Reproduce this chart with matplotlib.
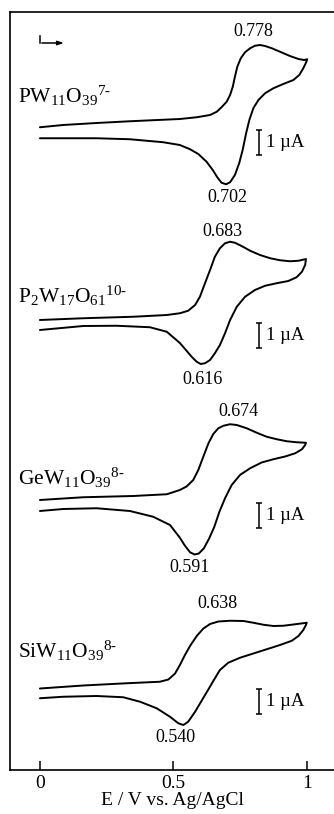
import matplotlib
matplotlib.use('Agg')
import matplotlib.pyplot as plt

plt.rcParams['font.family'] = ['Liberation Serif', 'DejaVu Serif']
plt.rcParams['mathtext.fontset'] = 'custom'
plt.rcParams['mathtext.rm'] = 'Liberation Serif'
plt.rcParams['mathtext.it'] = 'Liberation Serif:italic'

# potential (V vs Ag/AgCl) and current (uA), forward then reverse scan
e_pw = [0.000, 0.087, 0.212, 0.337, 0.524, 0.587, 0.637, 0.662, 0.680, 0.699, 0.712, 0.722, 0.730, 0.739,
        0.752, 0.768, 0.787, 0.805, 0.824, 0.843, 0.868, 0.899, 0.936, 0.968, 0.989, 1.001,
        0.996, 0.986, 0.971, 0.949, 0.911, 0.874, 0.843, 0.818, 0.799, 0.784, 0.772, 0.759, 0.746,
        0.730, 0.712, 0.697, 0.680, 0.664, 0.647, 0.624, 0.593, 0.562, 0.524, 0.462, 0.337, 0.212, 0.000]
i_pw = [0.23, 0.32, 0.40, 0.47, 0.56, 0.63, 0.72, 0.85, 1.03, 1.25, 1.52, 1.85, 2.25, 2.65,
        2.99, 3.23, 3.39, 3.49, 3.52, 3.48, 3.39, 3.25, 3.08, 2.96, 2.92, 2.95,
        2.81, 2.59, 2.32, 2.12, 1.96, 1.79, 1.59, 1.32, 0.99, 0.52, -0.01, -0.68, -1.21,
        -1.68, -1.97, -2.05, -1.99, -1.77, -1.48, -1.15, -0.84, -0.65, -0.48, -0.37, -0.25, -0.21, -0.21]

e_p2w = [0.000, 0.162, 0.349, 0.475, 0.524, 0.555, 0.581, 0.599, 0.618, 0.637, 0.655, 0.674, 0.693, 0.712,
         0.730, 0.755, 0.787, 0.824, 0.862, 0.899, 0.936, 0.968, 0.996,
         0.993, 0.981, 0.961, 0.930, 0.886, 0.843, 0.805, 0.768, 0.737, 0.712, 0.693, 0.674, 0.655,
         0.637, 0.618, 0.602, 0.587, 0.568, 0.549, 0.524, 0.475, 0.412, 0.287, 0.162, 0.000]
i_p2w = [0.20, 0.27, 0.33, 0.40, 0.47, 0.57, 0.80, 1.13, 1.67, 2.20, 2.73, 3.07, 3.27, 3.33,
         3.29, 3.16, 2.97, 2.80, 2.67, 2.59, 2.55, 2.57, 2.64,
         2.40, 2.13, 1.91, 1.76, 1.67, 1.57, 1.40, 1.13, 0.73, 0.20, -0.33, -0.80, -1.13,
         -1.40, -1.53, -1.56, -1.47, -1.27, -1.03, -0.72, -0.27, -0.09, -0.03, -0.04, -0.20]

e_ge = [0.000, 0.162, 0.349, 0.475, 0.524, 0.549, 0.574, 0.593, 0.612, 0.631, 0.649, 0.668, 0.687, 0.712,
        0.737, 0.774, 0.812, 0.849, 0.887, 0.924, 0.961, 0.996,
        0.993, 0.981, 0.956, 0.918, 0.874, 0.830, 0.787, 0.749, 0.718, 0.693, 0.672, 0.653, 0.634,
        0.614, 0.595, 0.579, 0.562, 0.543, 0.524, 0.487, 0.424, 0.337, 0.212, 0.087, 0.000]
i_ge = [0.21, 0.32, 0.37, 0.44, 0.61, 0.75, 1.01, 1.41, 1.95, 2.48, 2.85, 3.08, 3.18, 3.24,
        3.21, 3.08, 2.90, 2.74, 2.64, 2.56, 2.52, 2.50,
        2.41, 2.24, 2.08, 1.95, 1.84, 1.71, 1.48, 1.21, 0.81, 0.28, -0.26, -0.86, -1.32,
        -1.72, -1.93, -1.97, -1.88, -1.62, -1.30, -0.79, -0.46, -0.23, -0.12, -0.15, -0.23]

e_si = [0.000, 0.162, 0.325, 0.449, 0.481, 0.506, 0.524, 0.543, 0.562, 0.587, 0.612, 0.637, 0.668, 0.712,
        0.762, 0.799, 0.837, 0.874, 0.911, 0.949, 0.999,
        0.996, 0.986, 0.968, 0.943, 0.899, 0.849, 0.799, 0.749, 0.705, 0.674, 0.649, 0.630, 0.612,
        0.581, 0.555, 0.537, 0.518, 0.487, 0.437, 0.375, 0.312, 0.212, 0.087, 0.000]
i_si = [0.25, 0.37, 0.46, 0.52, 0.61, 0.85, 1.19, 1.59, 1.95, 2.35, 2.65, 2.83, 2.93, 2.96,
        2.95, 2.88, 2.80, 2.75, 2.76, 2.81, 2.88,
        2.79, 2.59, 2.35, 2.16, 1.99, 1.82, 1.65, 1.48, 1.28, 0.99, 0.55, 0.20, -0.12,
        -0.68, -1.08, -1.21, -1.14, -0.88, -0.54, -0.28, -0.10, -0.05, -0.08, -0.14]

names = [r'$\mathrm{PW_{11}O_{39}}^{7\text{-}}$', r'$\mathrm{P_2W_{17}O_{61}}^{10\text{-}}$',
         r'$\mathrm{GeW_{11}O_{39}}^{8\text{-}}$', r'$\mathrm{SiW_{11}O_{39}}^{8\text{-}}$']
anodic = ['0.778', '0.683', '0.674', '0.638']
cathodic = ['0.702', '0.616', '0.591', '0.540']

curves = [(e_pw, i_pw), (e_p2w, i_p2w), (e_ge, i_ge), (e_si, i_si)]
offsets = [25.48, 17.8, 10.59, 3.01]
name_y = [26.68, 18.68, 11.4, 4.48]
anodic_pos = [(0.798, 29.52), (0.685, 21.56), (0.742, 14.36), (0.663, 6.64)]
cathodic_pos = [(0.700, 22.92), (0.610, 15.6), (0.562, 8.12), (0.506, 1.32)]
bar_y = [25.1, 17.4, 10.2, 2.74]

fig = plt.figure(figsize=(3.34, 8.14), dpi=100)
ax = fig.add_axes((10/334, 44/814, 324/334, 758/814))

for k, (e, i) in enumerate(curves):
    ax.plot(e, [v + offsets[k] for v in i], color='black', lw=1.4,
            solid_joinstyle='round', solid_capstyle='round')
    ax.text(-0.083, name_y[k], names[k], fontsize=15.5, ha='left', va='baseline')
    ax.text(*anodic_pos[k], anodic[k], fontsize=13, ha='center', va='center')
    ax.text(*cathodic_pos[k], cathodic[k], fontsize=13, ha='center', va='center')
    ax.errorbar(0.82, bar_y[k], yerr=0.5, fmt='none', ecolor='black', elinewidth=1.1, capsize=2, capthick=1.1)
    ax.text(0.845, bar_y[k], '1 \u00b5A', fontsize=13.5, ha='left', va='center')

# scan direction marker
ax.plot([0, 0], [29.36, 29.08], color='black', lw=1.1)
ax.annotate('', xy=(0.1, 29.08), xytext=(-0.003, 29.08),
            arrowprops=dict(arrowstyle='-|>,head_length=0.35,head_width=0.12', color='black', lw=1.1))

ax.set_xlim(-0.112, 1.101)
ax.set_ylim(0, 30.32)
ax.set_xticks([0, 0.5, 1])
ax.set_xticklabels(['0', '0.5', '1'])
ax.set_yticks([])
ax.tick_params(axis='x', direction='in', length=6.5, width=1.1, pad=3.5, labelsize=14)
ax.spines['right'].set_visible(False)
for s in ['left', 'top', 'bottom']:
    ax.spines[s].set_linewidth(1.2)
ax.set_xlabel('E / V vs. Ag/AgCl', fontsize=14, labelpad=0)

fig.savefig('out.png', dpi=100)
